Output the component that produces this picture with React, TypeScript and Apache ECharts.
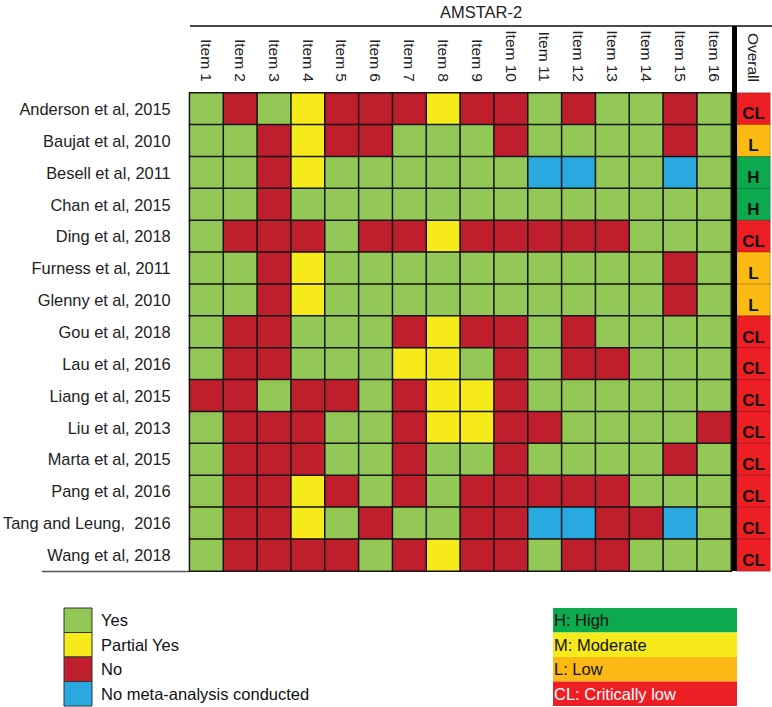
import React, { useEffect, useRef } from "react";
import * as echarts from "echarts";

const items = ["Item 1","Item 2","Item 3","Item 4","Item 5","Item 6","Item 7","Item 8","Item 9","Item 10","Item 11","Item 12","Item 13","Item 14","Item 15","Item 16"];

const studies = [
  "Anderson et al, 2015",
  "Baujat et al, 2010",
  "Besell et al, 2011",
  "Chan et al, 2015",
  "Ding et al, 2018",
  "Furness et al, 2011",
  "Glenny et al, 2010",
  "Gou et al, 2018",
  "Lau et al, 2016",
  "Liang et al, 2015",
  "Liu et al, 2013",
  "Marta et al, 2015",
  "Pang et al, 2016",
  "Tang and Leung,  2016",
  "Wang et al, 2018",
];

// Y = Yes, P = Partial Yes, N = No, X = No meta-analysis conducted
const ratings: string[][] = [
  ["Y","N","Y","P","N","N","N","P","N","N","Y","N","Y","Y","N","Y"],
  ["Y","Y","N","P","N","N","Y","Y","Y","N","Y","Y","Y","Y","N","Y"],
  ["Y","Y","N","P","Y","Y","Y","Y","Y","Y","X","X","Y","Y","X","Y"],
  ["Y","Y","N","Y","Y","Y","Y","Y","Y","Y","Y","Y","Y","Y","Y","Y"],
  ["Y","N","N","N","Y","N","N","P","N","N","N","N","N","Y","Y","Y"],
  ["Y","Y","N","P","Y","Y","Y","Y","Y","Y","Y","Y","Y","Y","N","Y"],
  ["Y","Y","N","P","Y","Y","Y","Y","Y","Y","Y","Y","Y","Y","N","Y"],
  ["Y","N","N","Y","Y","Y","N","P","N","N","Y","N","Y","Y","Y","Y"],
  ["Y","N","N","Y","Y","Y","P","P","Y","N","Y","N","N","Y","Y","Y"],
  ["N","N","Y","N","N","Y","N","P","P","N","Y","Y","Y","Y","Y","Y"],
  ["Y","N","N","N","Y","Y","N","P","P","N","N","Y","Y","Y","Y","N"],
  ["Y","N","N","N","Y","Y","N","Y","Y","N","Y","Y","Y","Y","N","Y"],
  ["Y","N","N","P","N","Y","N","Y","N","N","N","N","N","Y","Y","Y"],
  ["Y","N","N","P","Y","N","Y","Y","N","N","X","X","N","N","X","Y"],
  ["Y","N","N","N","N","Y","N","P","N","N","Y","N","N","Y","Y","Y"],
];

const overall = ["CL","L","H","H","CL","L","L","CL","CL","CL","CL","CL","CL","CL","CL"];

const ratingCodes = ["Y", "P", "N", "X"];
const ratingLabels = ["Yes", "Partial Yes", "No", "No meta-analysis conducted"];
const ratingColors = ["#93C756", "#F6EA1A", "#BF1E2C", "#2AA9E0"];

const overallCodes = ["H", "M", "L", "CL"];
const overallLabels = ["H: High", "M: Moderate", "L: Low", "CL: Critically low"];
const overallColors = ["#0DA94F", "#F6EA1A", "#FCB914", "#EE1E25"];
const overallTextColors = ["#111", "#111", "#111", "#fff"];

const FONT = "'Liberation Sans', Arial, Helvetica, sans-serif";

export default function App() {
  const ref = useRef<HTMLDivElement>(null);

  useEffect(() => {
    if (!ref.current) return;
    const chart = echarts.init(ref.current, undefined, { renderer: "svg" });

    const itemData: number[][] = [];
    ratings.forEach((row, yi) => {
      row.forEach((code, xi) => {
        itemData.push([xi, yi, ratingCodes.indexOf(code)]);
      });
    });
    const overallData = overall.map((code, yi) => [0, yi, overallCodes.indexOf(code)]);

    const gridTop = 93;
    const gridH = 478;
    const legendTop = 608;
    const legendRowH = 24.5;

    const graphics: any[] = [
      {
        type: "text",
        left: 440,
        top: 3,
        style: { text: "AMSTAR-2", fontSize: 16.5, fontFamily: FONT, fill: "#222" },
      },
      {
        type: "line",
        shape: { x1: 190, y1: 26, x2: 772, y2: 26 },
        style: { stroke: "#4a4a4a", lineWidth: 2 },
      },
      {
        type: "rect",
        shape: { x: 732, y: 26, width: 5, height: gridTop + gridH - 26 },
        style: { fill: "#000" },
        z: 10,
      },
      {
        type: "line",
        shape: { x1: 42, y1: gridTop + gridH + 0.5, x2: 190, y2: gridTop + gridH + 0.5 },
        style: { stroke: "#555", lineWidth: 1.5 },
      },
    ];

    ratingLabels.forEach((lab, i) => {
      graphics.push({
        type: "rect",
        shape: { x: 64, y: legendTop + i * legendRowH, width: 28, height: legendRowH },
        style: { fill: ratingColors[i], stroke: "#333", lineWidth: 1 },
      });
      graphics.push({
        type: "text",
        x: 101,
        y: legendTop + i * legendRowH + legendRowH / 2,
        style: {
          text: lab,
          fontSize: 16.5,
          fontFamily: FONT,
          fill: "#111",
          verticalAlign: "middle",
        },
      });
    });

    overallLabels.forEach((lab, i) => {
      graphics.push({
        type: "rect",
        shape: { x: 553, y: legendTop + i * legendRowH, width: 184, height: legendRowH },
        style: { fill: overallColors[i] },
      });
      graphics.push({
        type: "text",
        x: 554,
        y: legendTop + i * legendRowH + legendRowH / 2,
        style: {
          text: lab,
          fontSize: 16.5,
          fontFamily: FONT,
          fill: overallTextColors[i],
          verticalAlign: "middle",
        },
      });
    });

    chart.setOption({
      animation: false,
      textStyle: { fontFamily: FONT },
      grid: [
        { left: 189, top: gridTop, width: 542, height: gridH },
        { left: 737, top: gridTop, width: 33, height: gridH },
      ],
      xAxis: [
        {
          type: "category",
          gridIndex: 0,
          data: items,
          position: "top",
          axisLine: { show: false },
          axisTick: { show: false },
          splitLine: { show: false },
          axisLabel: { rotate: 90, fontSize: 15.5, color: "#222", margin: 11, fontFamily: FONT, interval: 0 },
        },
        {
          type: "category",
          gridIndex: 1,
          data: ["Overall"],
          position: "top",
          axisLine: { show: false },
          axisTick: { show: false },
          axisLabel: { rotate: 90, fontSize: 15.5, color: "#222", margin: 11, fontFamily: FONT },
        },
      ],
      yAxis: [
        {
          type: "category",
          gridIndex: 0,
          data: studies,
          inverse: true,
          axisLine: { show: false },
          axisTick: { show: false },
          axisLabel: { fontSize: 16.4, color: "#222", margin: 19, fontFamily: FONT, interval: 0 },
        },
        {
          type: "category",
          gridIndex: 1,
          data: studies,
          inverse: true,
          axisLine: { show: false },
          axisTick: { show: false },
          axisLabel: { show: false },
        },
      ],
      visualMap: [
        {
          type: "piecewise",
          show: false,
          seriesIndex: 0,
          dimension: 2,
          pieces: ratingColors.map((c, i) => ({ value: i, color: c })),
        },
        {
          type: "piecewise",
          show: false,
          seriesIndex: 1,
          dimension: 2,
          pieces: overallColors.map((c, i) => ({ value: i, color: c })),
        },
      ],
      series: [
        {
          type: "heatmap",
          xAxisIndex: 0,
          yAxisIndex: 0,
          data: itemData,
          itemStyle: { borderColor: "#151515", borderWidth: 1.5 },
          emphasis: { disabled: true },
        },
        {
          type: "heatmap",
          xAxisIndex: 1,
          yAxisIndex: 1,
          data: overallData,
          itemStyle: { borderColor: "rgba(0,0,0,0.3)", borderWidth: 0.8 },
          emphasis: { disabled: true },
          label: {
            show: true,
            formatter: (p: any) => overallCodes[p.value[2]],
            fontSize: 17,
            fontWeight: "bold",
            color: "#111",
            fontFamily: FONT,
            offset: [0, 5],
          },
        },
      ],
      graphic: graphics,
    });

    return () => chart.dispose();
  }, []);

  return (
    <div
      ref={ref}
      style={{ position: "absolute", left: 0, top: 0, width: 772, height: 707 }}
    />
  );
}
